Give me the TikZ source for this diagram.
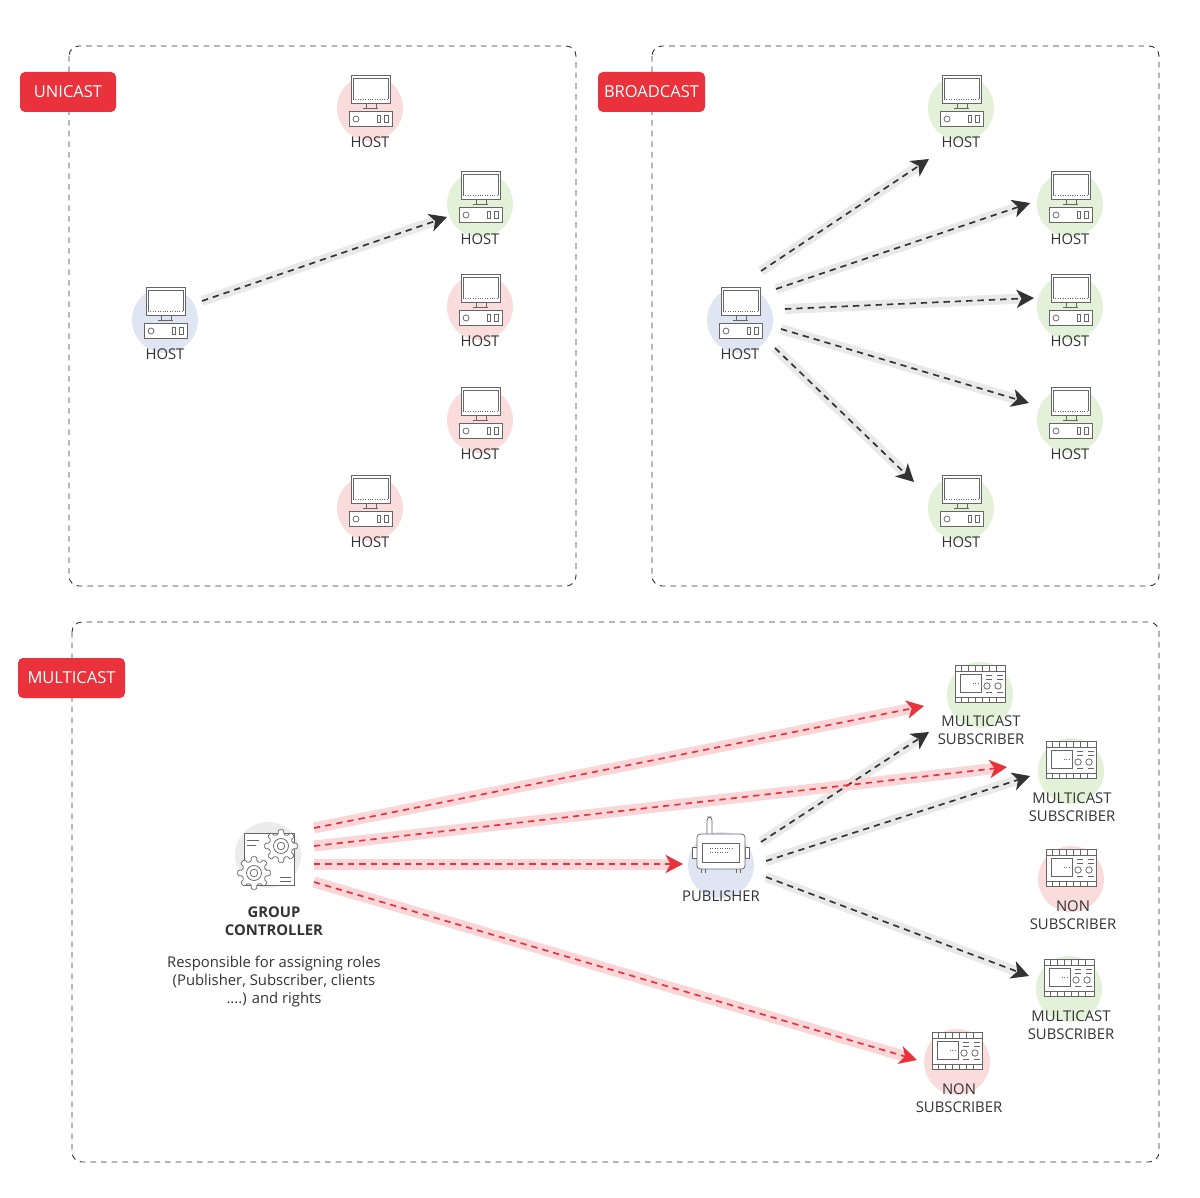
\documentclass[tikz,border=0pt]{standalone}
\usepackage{fontspec}
\setmainfont{Open Sans}
\usetikzlibrary{arrows.meta}
\definecolor{pinkc}{HTML}{FBDCDC}
\definecolor{greenc}{HTML}{E4F1D9}
\definecolor{bluec}{HTML}{DFE5F3}
\definecolor{grayc}{HTML}{ECECEC}
\definecolor{redc}{HTML}{E9323C}
\definecolor{inkc}{HTML}{333333}
\definecolor{iconc}{HTML}{666666}
\definecolor{bandk}{HTML}{E9E9E9}
\definecolor{bandr}{HTML}{FAD6D8}
\tikzset{
  every node/.style={font=\fontsize{8.9pt}{10.8pt}\selectfont, text=inkc, inner sep=0pt},
  frame/.style={draw=inkc, line width=0.55pt, dash pattern=on 3.4pt off 3pt, rounded corners=6pt},
  tagbox/.style={fill=redc, rounded corners=3pt, text=white, font=\fontsize{9.9pt}{12pt}\selectfont, minimum height=24pt, anchor=center},
  disc/.style={circle, minimum size=39.6pt},
  captext/.style={align=center, anchor=center},
  ic/.style={draw=iconc, line width=0.45pt},
  bandK/.style={draw=bandk, line width=6pt, shorten >=7pt},
  bandR/.style={draw=bandr, line width=6.6pt, shorten >=7pt},
  lineK/.style={draw=inkc, line width=1pt, dash pattern=on 3.8pt off 3pt, -{Stealth[length=10.5pt,width=11pt,inset=3pt,fill=inkc]}},
  lineR/.style={draw=redc, line width=1pt, dash pattern=on 3.8pt off 3pt, -{Stealth[length=10.5pt,width=11pt,inset=3pt,fill=redc]}},
  pics/hosticon/.style={code={
    \draw[ic,fill=white] (-19,-33) rectangle (20,-5);
    \draw[ic] (-17,-30) -- (18,-30) -- (18,-9);
    \draw[ic] (-17,-30) -- (-17,-9);
    \draw[ic,densely dotted] (-17,-9) -- (18,-9);
    \draw[ic] (-4,-5) rectangle (6,0);
    \draw[ic] (-7,0) -- (8,0);
    \draw[ic,fill=white] (-21,3) rectangle (22,18);
    \draw[ic] (-14,11) circle (3);
    \draw[ic] (7,7) rectangle (10,14);
    \draw[ic] (14,7) rectangle (18,14);
  }},
  pics/devicon/.style={code={
    \draw[ic,fill=white] (-25,-24) rectangle (25,2);
    \draw[ic,fill=white] (-25,-30) rectangle (25,-24);
    \draw[ic,fill=white] (-25,2) rectangle (25,7);
    \foreach \q in {-19,-12,-5,2,9,16} {
      \draw[ic] (\q,-30) -- (\q,-24);
      \draw[ic] (\q,2) -- (\q,7);
    }
    \draw[ic] (-20,-21) rectangle (1,-3);
    \draw[ic,densely dotted] (-7,-12) -- (-2,-12);
    \draw[ic] (6,-20) -- (12,-20) (17,-20) -- (23,-20);
    \draw[ic] (6,-16) -- (12,-16) (17,-16) -- (23,-16);
    \draw[ic] (7,-9) circle (3.2);
    \draw[ic] (18,-9) circle (3.2);
    \draw[ic] (6,-3) -- (12,-3) (17,-3) -- (23,-3);
  }},
  pics/gearicon/.style={code={
    \draw[ic,fill=white,rounded corners=0.6pt] (-14:12)
      \foreach \a in {0,45,...,315} { -- ({\a-14}:12) -- ({\a-9}:16.5) -- ({\a+9}:16.5) -- ({\a+14}:12) } -- cycle;
    \draw[ic] (0,0) circle (7.5);
    \draw[ic] (0,0) circle (3.8);
  }},
  pics/pubicon/.style={code={
    \draw[ic,fill=white,rounded corners=2pt] (-14,-31) -- (-14,-48) -- (-9,-48) -- (-9,-31);
    \draw[ic,fill=white] (-29,-18) rectangle (-24,-7);
    \draw[ic,fill=white] (24,-18) rectangle (28,-7);
    \draw[ic,fill=white,rounded corners=2pt] (-24,-31) rectangle (24,4);
    \draw[ic] (-19,-22) rectangle (18,-3);
    \draw[ic,densely dotted] (-11,-17) -- (12,-17);
    \draw[ic,densely dotted] (-11,-13) -- (6,-13);
    \draw[ic] (-20,4) -- (-20,8) (-16,4) -- (-16,8) (15,4) -- (15,8) (19,4) -- (19,8);
  }},
}
\newcommand{\hostnode}[5]{% name, x, y, colour, label y
  \node[disc, fill=#4] (#1) at (#2,#3) {};
  \pic at (#1.center) {hosticon};
  \node[captext] (#1t) at (#2,#5) {HOST};
}
\newcommand{\devnode}[7]{% name, x, y, colour, label x, label y, text
  \node[disc, fill=#4] (#1) at (#2,#3) {};
  \pic at (#1.center) {devicon};
  \node[captext] (#1t) at (#5,#6) {#7};
}
\begin{document}
\begin{tikzpicture}[x=0.6pt,y=-0.6pt]
\useasboundingbox (0,0) rectangle (1200,1198);
% frames
\draw[frame] (69,46) rectangle (576,586);
\draw[frame] (652,46) rectangle (1159,586);
\draw[frame] (72,622) rectangle (1159,1162);
\node[tagbox, minimum width=57.6pt] (tagU) at (68,92) {UNICAST};
\node[tagbox, minimum width=64.2pt] (tagB) at (651.5,92) {BROADCAST};
\node[tagbox, minimum width=64.2pt] (tagM) at (71.5,678) {MULTICAST};
% unicast hosts
\hostnode{ua}{370}{108}{pinkc}{142}
\hostnode{ub}{480}{204}{greenc}{239}
\hostnode{uc}{480}{307}{pinkc}{341}
\hostnode{ud}{480}{420}{pinkc}{454}
\hostnode{ue}{370}{508}{pinkc}{542}
\hostnode{us}{165}{320}{bluec}{354}
% broadcast hosts
\hostnode{ba}{961}{108}{greenc}{142}
\hostnode{bb}{1070}{204}{greenc}{239}
\hostnode{bc}{1070}{307}{greenc}{341}
\hostnode{bd}{1070}{420}{greenc}{454}
\hostnode{be}{961}{508}{greenc}{542}
\hostnode{bs}{740}{320}{bluec}{354}
% multicast devices
\devnode{ma}{980}{695}{greenc}{981}{730.5}{MULTICAST\\SUBSCRIBER}
\devnode{mb}{1071}{771}{greenc}{1072}{807.5}{MULTICAST\\SUBSCRIBER}
\devnode{mc}{1071}{879}{pinkc}{1073}{915.5}{NON\\SUBSCRIBER}
\devnode{md}{1069}{989}{greenc}{1071}{1025.5}{MULTICAST\\SUBSCRIBER}
\devnode{me}{957}{1062}{pinkc}{959}{1098.5}{NON\\SUBSCRIBER}
% publisher
\node[disc, fill=bluec] (pub) at (721,865) {};
\pic at (pub.center) {pubicon};
\node[captext] (pubt) at (721,896) {PUBLISHER};
% controller
\node[disc, fill=grayc] (gc) at (268,855) {};
\draw[ic,fill=white] (244,833) rectangle (294,885);
\draw[ic] (247,840) -- (259,840) (247,845) -- (256,845) (280,877) -- (291,877) (280,881) -- (291,881);
\pic at (281,846) {gearicon};
\pic at (254,873) {gearicon};
\node[captext, font=\fontsize{8.9pt}{10.8pt}\selectfont\bfseries] (gct) at (274,921.5) {GROUP\\CONTROLLER};
\node[captext] (gcd) at (274,982) {Responsible for assigning roles\\(Publisher, Subscriber, clients\\....) and rights};
% connector end points
\coordinate (u1a) at (202,301);  \coordinate (u1b) at (447,217);
\coordinate (b1a) at (761,271);  \coordinate (b1b) at (929,159);
\coordinate (b2a) at (776,289);  \coordinate (b2b) at (1030,203);
\coordinate (b3a) at (785,309);  \coordinate (b3b) at (1034,298);
\coordinate (b4a) at (781,329);  \coordinate (b4b) at (1029,403);
\coordinate (b5a) at (775,348);  \coordinate (b5b) at (914,482);
\coordinate (k1a) at (761,842);  \coordinate (k1b) at (929,732);
\coordinate (k2a) at (766,861);  \coordinate (k2b) at (1030,776);
\coordinate (k3a) at (766,877);  \coordinate (k3b) at (1029,976);
\coordinate (r1a) at (314,828);  \coordinate (r1b) at (924,706);
\coordinate (r2a) at (314,846);  \coordinate (r2b) at (1007,767);
\coordinate (r3a) at (314,864);  \coordinate (r3b) at (683,864);
\coordinate (r4a) at (314,882);  \coordinate (r4b) at (917,1060);
% bands
\foreach \c in {u1,b1,b2,b3,b4,b5,k1,k2,k3} \draw[bandK] (\c a) -- (\c b);
\foreach \c in {r1,r2,r3,r4} \draw[bandR] (\c a) -- (\c b);
% dashed arrows
\foreach \c in {u1,b1,b2,b3,b4,b5,k1,k2,k3} \draw[lineK] (\c a) -- (\c b);
\foreach \c in {r1,r2,r3,r4} \draw[lineR] (\c a) -- (\c b);
\end{tikzpicture}
\end{document}
